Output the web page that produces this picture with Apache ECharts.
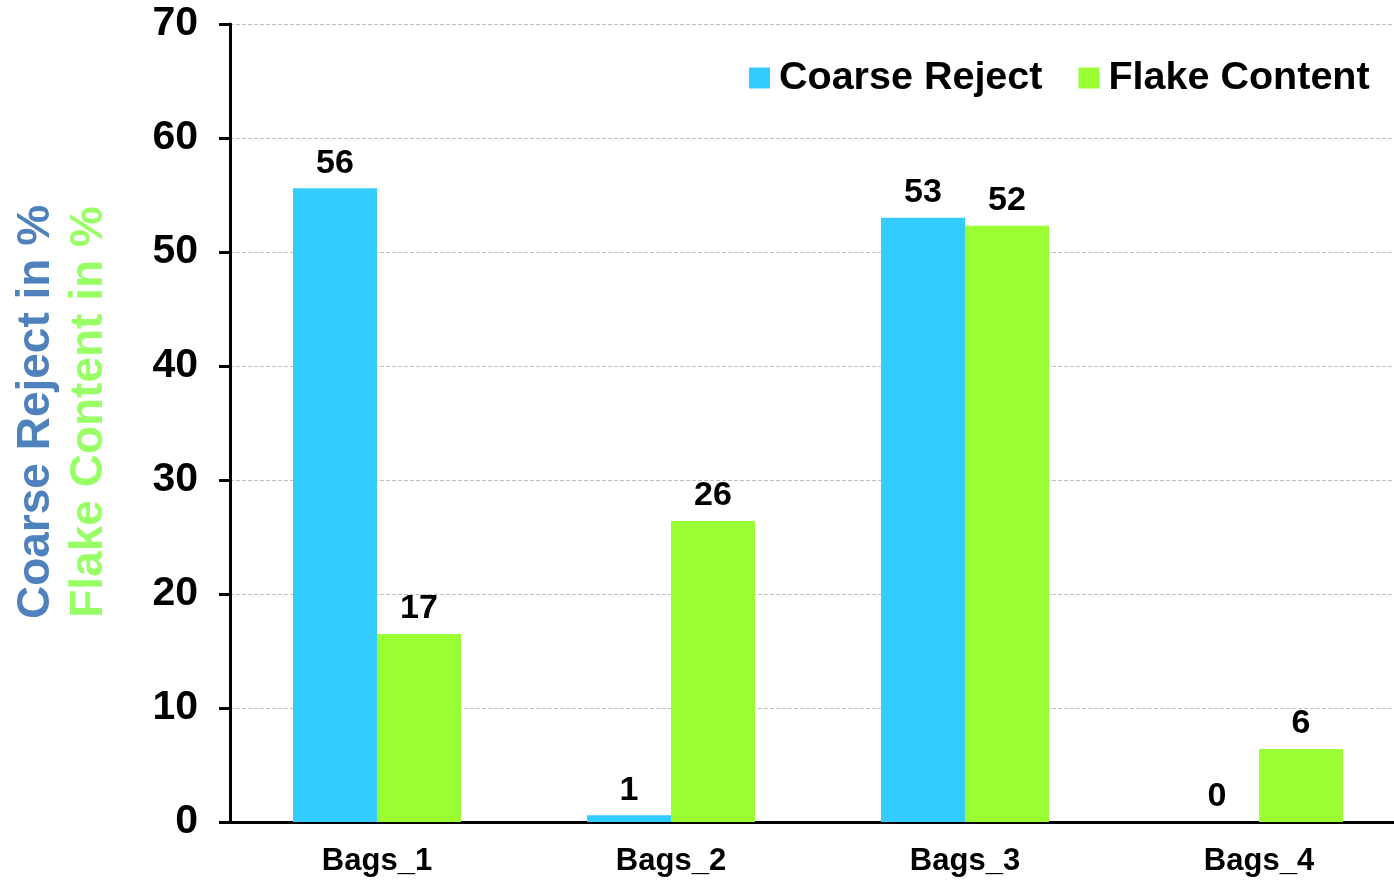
<!DOCTYPE html>
<html>
<head>
<meta charset="utf-8">
<script src="https://cdn.jsdelivr.net/npm/echarts@6/dist/echarts.min.js"></script>
<style>
  html, body { margin: 0; padding: 0; background: #fff; overflow: hidden; }
  /* the plot area runs slightly past the right edge of the window */
  #chart { width: 1406px; height: 881px; }
</style>
</head>
<body>
<div id="chart"></div>
<script>
// Bag samples and measured percentages
const categories = ['Bags_1', 'Bags_2', 'Bags_3', 'Bags_4'];
const coarseReject = [55.6, 0.6, 53.0, 0];
const flakeContent = [16.5, 26.4, 52.3, 6.4];
const yTicks = { min: 0, max: 70, interval: 10 };

const FONT = '"Liberation Sans", Arial, sans-serif';

const chart = echarts.init(document.getElementById('chart'));

const valueLabel = {
  show: true,
  position: 'top',
  distance: 8,
  color: '#000',
  fontFamily: FONT,
  fontWeight: 'bold',
  fontSize: 34,
  formatter: p => Math.round(p.value)
};

chart.setOption({
  animation: false,
  backgroundColor: '#fff',
  grid: { left: 230, right: 0, top: 24, bottom: 59 },
  legend: {
    left: 744,
    top: 53,
    icon: 'rect',
    itemWidth: 21,
    itemHeight: 21,
    itemGap: 36,
    textStyle: {
      color: '#000',
      fontFamily: FONT,
      fontWeight: 'bold',
      fontSize: 39.5,
      padding: [0, 0, 0, 4]
    },
    data: ['Coarse Reject', 'Flake Content']
  },
  xAxis: {
    type: 'category',
    data: categories,
    axisLine: { lineStyle: { color: '#000', width: 3 } },
    axisTick: { length: 8, lineStyle: { color: '#000', width: 2 } },
    axisLabel: {
      color: '#000',
      fontFamily: FONT,
      fontWeight: 'bold',
      fontSize: 31,
      margin: 24
    }
  },
  yAxis: {
    type: 'value',
    min: yTicks.min,
    max: yTicks.max,
    interval: yTicks.interval,
    name: '{a|Coarse Reject in %}\n{b|Flake Content in %}',
    nameLocation: 'middle',
    nameRotate: 90,
    nameGap: 114,
    nameTextStyle: {
      fontFamily: FONT,
      fontWeight: 'bold',
      padding: [0, 0, 0, 22],
      rich: {
        a: { color: '#4F81BD', fontSize: 46, fontWeight: 'bold', fontFamily: FONT, lineHeight: 53 },
        b: { color: '#99FF66', fontSize: 46, fontWeight: 'bold', fontFamily: FONT, lineHeight: 53 }
      }
    },
    axisLine: { show: true, lineStyle: { color: '#000', width: 3 } },
    axisTick: { show: true, length: 11, lineStyle: { color: '#000', width: 3 } },
    axisLabel: {
      color: '#000',
      fontFamily: FONT,
      fontWeight: 'bold',
      fontSize: 41,
      margin: 32
    },
    splitLine: { lineStyle: { color: '#BFBFBF', type: 'dashed', width: 1 } }
  },
  series: [
    {
      name: 'Coarse Reject',
      type: 'bar',
      data: coarseReject,
      barWidth: 84,
      barGap: '0%',
      itemStyle: { color: '#33CCFF' },
      label: valueLabel
    },
    {
      name: 'Flake Content',
      type: 'bar',
      data: flakeContent,
      barWidth: 84,
      barGap: '0%',
      itemStyle: { color: '#99FF33' },
      label: valueLabel
    }
  ]
});
</script>
</body>
</html>
